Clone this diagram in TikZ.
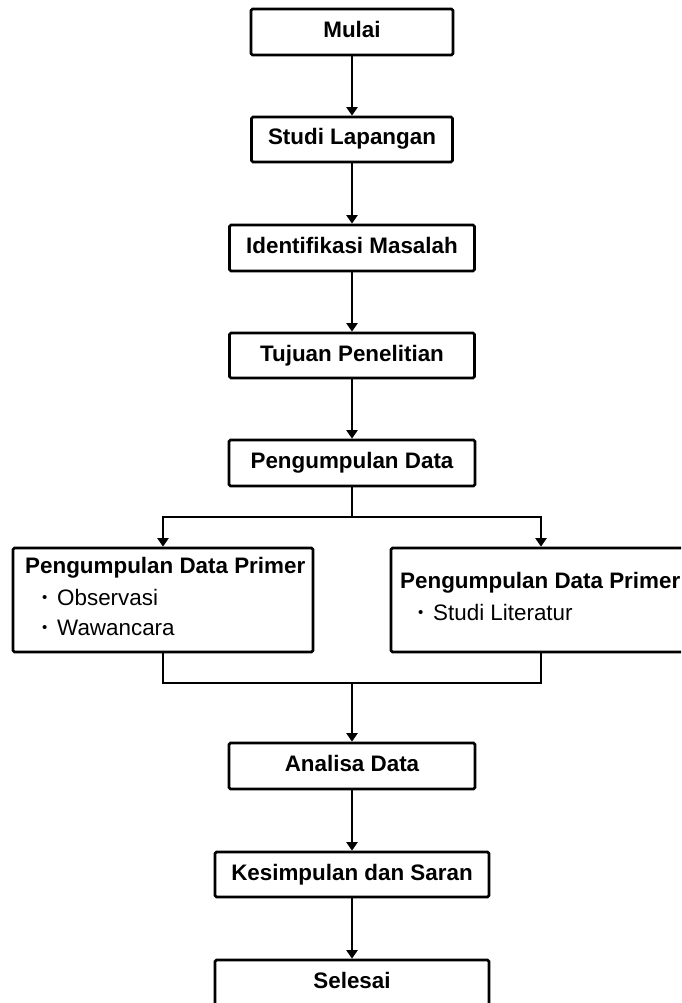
\documentclass[tikz,border=0pt]{standalone}
\usepackage{fontspec}
\setmainfont{Liberation Sans}
\usetikzlibrary{arrows.meta}
\newcommand{\smbul}{\makebox[15pt][l]{\raisebox{2.5pt}{\fontsize{15}{15}\selectfont •}}}
\begin{document}
\begin{tikzpicture}[x=1pt,y=-1pt,
  box/.style={draw=black,line width=2.7pt,rounded corners=1.5pt,inner sep=0pt,
    font=\fontsize{22.4}{30.5}\selectfont\bfseries,text height=16pt,text depth=5pt,align=center},
  bigbox/.style={draw=black,line width=2.7pt,rounded corners=1.5pt,inner sep=0pt,
    minimum width=300pt,minimum height=104pt},
  txt/.style={anchor=base west,inner sep=0pt,font=\fontsize{22.4}{30.5}\selectfont},
  ttl/.style={txt,font=\fontsize{22.4}{30.5}\selectfont\bfseries},
  conn/.style={line width=2.7pt},
  arr/.style={conn,-{Triangle[width=11pt,length=8.5pt]}}]
\clip (0,0) rectangle (681,1003);
\fill[white] (0,0) rectangle (681,1003);

\node[box,minimum width=202pt,minimum height=46pt] (mulai) at (352,32) {Mulai};
\node[box,minimum width=201pt,minimum height=45pt] (studi) at (352,139.5) {Studi Lapangan};
\node[box,minimum width=245pt,minimum height=46pt] (ident) at (352,248) {Identifikasi Masalah};
\node[box,minimum width=245pt,minimum height=45pt] (tujuan) at (352,355.5) {Tujuan Penelitian};
\node[box,minimum width=246pt,minimum height=46pt] (pd) at (352,463) {Pengumpulan Data};

\node[bigbox] (left) at (163,600) {};
\node[bigbox] (right) at (541,600) {};

\node[ttl] (lt) at (25,573) {Pengumpulan Data Primer};
\node[txt] (l1) at (42,605) {\smbul Observasi};
\node[txt] (l2) at (42,635) {\smbul Wawancara};
\node[ttl] (rt) at (400,588) {Pengumpulan Data Primer};
\node[txt] (r1) at (418,620) {\smbul Studi Literatur};

\node[box,minimum width=246pt,minimum height=46pt] (analisa) at (352,766) {Analisa Data};
\node[box,minimum width=274pt,minimum height=45pt] (kesimpulan) at (352,874.5) {Kesimpulan dan Saran};
\node[box,minimum width=274pt,minimum height=46pt] (selesai) at (352,983) {Selesai};

\coordinate (split) at (352,517);
\coordinate (merge) at (352,683);

\draw[arr] (mulai) -- (studi);
\draw[arr] (studi) -- (ident);
\draw[arr] (ident) -- (tujuan);
\draw[arr] (tujuan) -- (pd);
\draw[conn] (pd) -- (split);
\draw[arr] (split) -| (left.north);
\draw[arr] (split) -| (right.north);
\draw[conn] (left.south) |- (merge);
\draw[conn] (right.south) |- (merge);
\draw[arr] (merge) -- (analisa);
\draw[arr] (analisa) -- (kesimpulan);
\draw[arr] (kesimpulan) -- (selesai);
\end{tikzpicture}
\end{document}
